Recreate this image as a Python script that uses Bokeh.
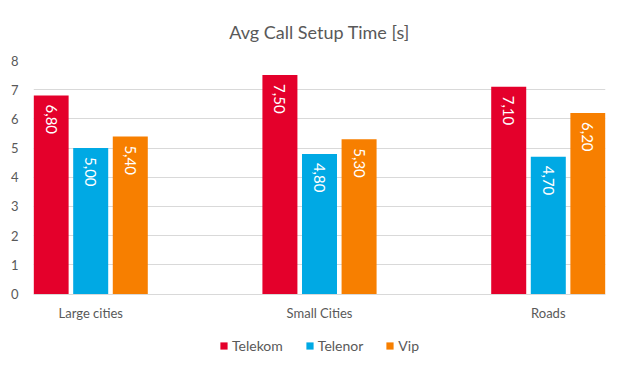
import numpy as np
from bokeh.plotting import figure
from bokeh.models import ColumnDataSource, FixedTicker, Legend, LegendItem, Range1d
from bokeh.embed import file_html
from bokeh.resources import INLINE
from bokeh.core.properties import value

categories = ["Large cities", "Small Cities", "Roads"]
operators = ["Telekom", "Telenor", "Vip"]
telekom = [6.80, 7.50, 7.10]
telenor = [5.00, 4.80, 4.70]
vip = [5.40, 5.30, 6.20]
y_ticks = [0, 1, 2, 3, 4, 5, 6, 7, 8]
colors = ["#E4002B", "#00A9E4", "#F77F00"]

FONT = "Lato"
GREY = "#595959"

# frame spans from the top border down to the bottom of the canvas; the value axis
# keeps 0..8 over the upper 235 px, the space under 0 holds category labels and legend
Y_MIN = -79 / (235 / 8)

p = figure(width=617, height=372, x_range=Range1d(-0.25, 2.25), y_range=Range1d(Y_MIN, 8),
           output_backend="svg", toolbar_location=None,
           min_border_left=33, min_border_right=12, min_border_top=58, min_border_bottom=0)

p.title.text = "Avg Call Setup Time [s]"
p.title.align = "center"
p.title.offset = -10
p.title.text_font = FONT
p.title.text_font_size = "18px"
p.title.text_font_style = "normal"
p.title.text_color = GREY
p.title.standoff = 36

p.outline_line_color = None
p.xgrid.grid_line_color = None
p.ygrid.grid_line_color = "#D9D9D9"
p.ygrid.ticker = FixedTicker(ticks=y_ticks)

p.yaxis.ticker = FixedTicker(ticks=y_ticks)
p.yaxis.axis_line_color = None
p.yaxis.major_tick_line_color = None
p.yaxis.minor_tick_line_color = None
p.yaxis.major_label_standoff = 9
p.yaxis.major_label_text_font = FONT
p.yaxis.major_label_text_font_size = "13px"
p.yaxis.major_label_text_color = GREY

idx = np.arange(len(categories))
p.xaxis.fixed_location = 0
p.xaxis.ticker = FixedTicker(ticks=list(idx))
p.xaxis.major_label_overrides = {int(i): c for i, c in zip(idx, categories)}
p.xaxis.axis_line_color = "#D9D9D9"
p.xaxis.major_tick_line_color = None
p.xaxis.minor_tick_line_color = None
p.xaxis.major_tick_out = 0
p.xaxis.major_tick_in = 0
p.xaxis.major_label_standoff = 11
p.xaxis.major_label_text_font = FONT
p.xaxis.major_label_text_font_size = "13px"
p.xaxis.major_label_text_color = GREY

bar_w = 0.153
step = 0.173
items = []
for k, (name, vals, col) in enumerate(zip(operators, [telekom, telenor, vip], colors)):
    xs = idx + (k - 1) * step
    src = ColumnDataSource(dict(x=xs, top=vals,
                                lab=[f"{v:.2f}".replace(".", ",") for v in vals]))
    r = p.vbar(x="x", top="top", bottom=0, width=bar_w, source=src, fill_color=col, line_color=None)
    p.text(x="x", y="top", text="lab", source=src, angle=-np.pi / 2,
           text_align="left", text_baseline="middle", y_offset=9,
           text_color="white", text_font=value(FONT), text_font_size="15px")
    items.append(LegendItem(label=name, renderers=[r]))

legend = Legend(items=items, orientation="horizontal", location="bottom_center",
                glyph_width=9, glyph_height=9, label_standoff=4, spacing=22,
                label_height=14, label_text_font=FONT, label_text_font_size="14px",
                label_text_color=GREY, border_line_color=None, background_fill_alpha=0,
                margin=18, padding=0)
p.add_layout(legend, "center")

open("out.html", "w").write(file_html(p, INLINE))
